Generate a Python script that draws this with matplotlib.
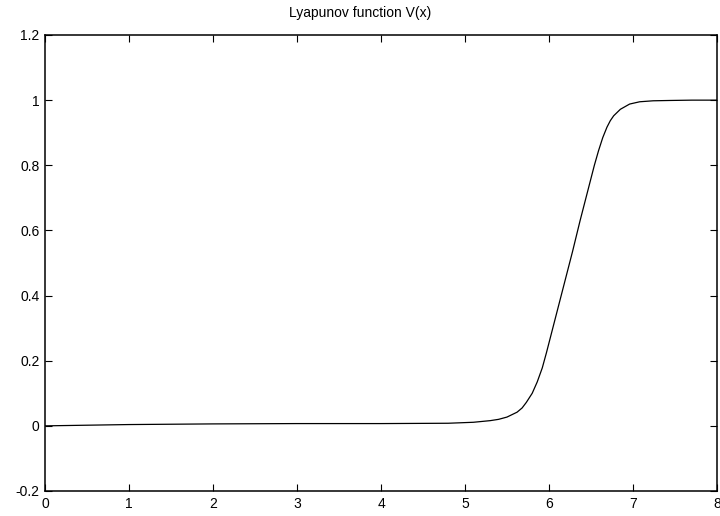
import matplotlib
matplotlib.use("Agg")
import matplotlib.pyplot as plt

plt.rcParams['font.family'] = ['Liberation Sans', 'DejaVu Sans']

x_vals = [0.0, 0.5, 1.0, 1.5, 2.0, 3.0, 4.0, 4.8, 5.1, 5.3, 5.4, 5.5, 5.62, 5.68,
          5.73, 5.80, 5.86, 5.92, 5.97, 6.07, 6.17, 6.28, 6.37, 6.49, 6.54, 6.59,
          6.64, 6.69, 6.73, 6.77, 6.85, 6.96, 7.08, 7.24, 7.44, 7.7, 8.0]
y_vals = [0.0, 0.002, 0.004, 0.005, 0.006, 0.007, 0.007, 0.008, 0.011, 0.016, 0.020,
          0.027, 0.042, 0.055, 0.072, 0.100, 0.135, 0.178, 0.225, 0.325, 0.425, 0.535,
          0.63, 0.75, 0.80, 0.845, 0.885, 0.917, 0.937, 0.952, 0.972, 0.988, 0.995,
          0.998, 0.999, 1.0, 1.0]

x_ticks = [0, 1, 2, 3, 4, 5, 6, 7, 8]
y_ticks = [-0.2, 0, 0.2, 0.4, 0.6, 0.8, 1, 1.2]
y_labels = ['-0.2', '0', '0.2', '0.4', '0.6', '0.8', '1', '1.2']
title = 'Lyapunov function V(x)'

fig = plt.figure(figsize=(7.2, 5.16), dpi=100)
ax = fig.add_axes([45 / 720, 25 / 516, 672 / 720, 456 / 516])
ax.plot(x_vals, y_vals, color='black', lw=0.9)
ax.set_xlim(0, 8)
ax.set_ylim(-0.2, 1.2)
ax.set_xticks(x_ticks)
ax.set_xticklabels([str(v) for v in x_ticks])
ax.set_yticks(y_ticks)
ax.set_yticklabels(y_labels)
ax.tick_params(direction='in', length=5, width=0.8, top=True, right=True,
               labelsize=10, pad=4)
for s in ax.spines.values():
    s.set_linewidth(1.1)
fig.text(0.5, 1 - 13 / 516, title, ha='center', va='center', fontsize=10)
fig.savefig('out.png', dpi=100)
